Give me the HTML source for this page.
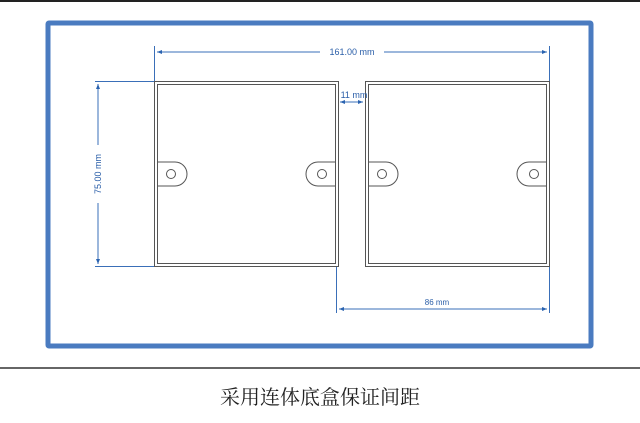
<!DOCTYPE html>
<html><head><meta charset="utf-8"><style>
body{margin:0;width:640px;height:423px;background:#fff;overflow:hidden}
</style></head><body>
<svg width="640" height="423" viewBox="0 0 640 423" xmlns="http://www.w3.org/2000/svg" style="position:absolute;left:0;top:0">
<defs>
<marker id="a" viewBox="0 0 10 10" refX="10" refY="5" markerWidth="7" markerHeight="5" orient="auto-start-reverse"><path d="M0,1 L10,5 L0,9z" fill="#2a63b0"/></marker>
</defs>
<rect width="640" height="423" fill="#fff"/>
<line x1="0" y1="1" x2="640" y2="1" stroke="#222" stroke-width="2"/>
<rect x="48" y="23" width="543" height="323" fill="#fff" stroke="#4a7bc0" stroke-width="5" rx="1"/>
<line x1="0" y1="368" x2="640" y2="368" stroke="#333" stroke-width="1.5"/>
<g fill="none" stroke="#555" stroke-width="1">
<rect x="154.5" y="81.5" width="184" height="185"/>
<rect x="157.5" y="84.5" width="178" height="179"/>
<rect x="365.5" y="81.5" width="184" height="185"/>
<rect x="368.5" y="84.5" width="178" height="179"/>
<path d="M158,162 h17 a12,12 0 0 1 0,24 h-17"/>
<path d="M335,162 h-17 a12,12 0 0 0 0,24 h17"/>
<path d="M369,162 h17 a12,12 0 0 1 0,24 h-17"/>
<path d="M546,162 h-17 a12,12 0 0 0 0,24 h17"/>
<circle cx="171" cy="174" r="4.5"/><circle cx="322" cy="174" r="4.5"/>
<circle cx="382" cy="174" r="4.5"/><circle cx="534" cy="174" r="4.5"/>
</g>
<g stroke="#3a6fb8" stroke-width="1" fill="none">
<line x1="154.5" y1="46" x2="154.5" y2="81"/>
<line x1="549.5" y1="46" x2="549.5" y2="81"/>
<line x1="157" y1="52" x2="320" y2="52" marker-start="url(#a)"/>
<line x1="384" y1="52" x2="547" y2="52" marker-end="url(#a)"/>
<line x1="95" y1="81.5" x2="154" y2="81.5"/>
<line x1="95" y1="266.5" x2="154" y2="266.5"/>
<line x1="98" y1="84" x2="98" y2="145" marker-start="url(#a)"/>
<line x1="98" y1="203" x2="98" y2="264" marker-end="url(#a)"/>
<line x1="336.5" y1="267" x2="336.5" y2="313"/>
<line x1="549.5" y1="267" x2="549.5" y2="313"/>
<line x1="339" y1="309" x2="547" y2="309" marker-start="url(#a)" marker-end="url(#a)"/>
<line x1="340" y1="102" x2="363" y2="102" marker-start="url(#a)" marker-end="url(#a)"/>
</g>
<g font-family="Liberation Sans, sans-serif" fill="#2a5ea8" font-size="9">
<text x="352" y="55" text-anchor="middle">161.00 mm</text>
<text x="354" y="98" text-anchor="middle">11 mm</text>
<text x="437" y="305" text-anchor="middle" font-size="8">86 mm</text>
<text transform="translate(101,174) rotate(-90)" text-anchor="middle">75.00 mm</text>
</g>
<text x="320" y="404" text-anchor="middle" font-family="Liberation Serif, Noto Serif CJK SC, serif" font-size="20" fill="#222">采用连体底盒保证间距</text>
</svg>
</body></html>
